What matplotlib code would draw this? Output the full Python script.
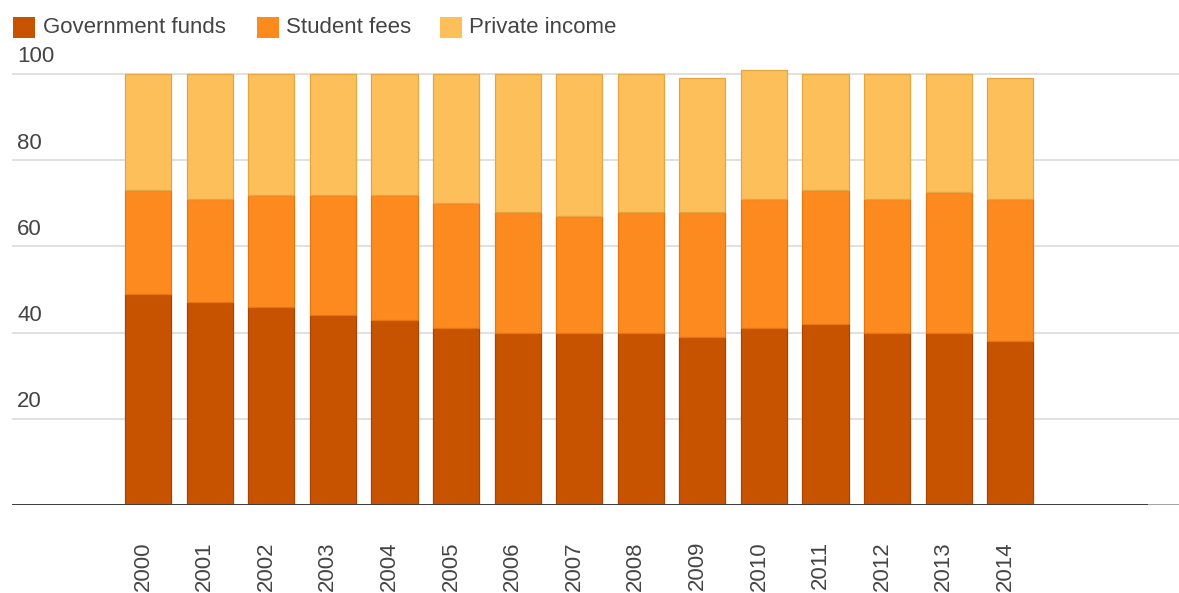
import matplotlib.pyplot as plt
from matplotlib.patches import Rectangle
from matplotlib.transforms import blended_transform_factory, ScaledTranslation
import numpy as np

plt.rcParams['font.family'] = ['Liberation Sans', 'DejaVu Sans']

years = ['2000', '2001', '2002', '2003', '2004', '2005', '2006', '2007',
         '2008', '2009', '2010', '2011', '2012', '2013', '2014']
government = [49, 47, 46, 44, 43, 41, 40, 40, 40, 39, 41, 42, 40, 40, 38]
student_fees = [24, 24, 26, 28, 29, 29, 28, 27, 28, 29, 30, 31, 31, 32.5, 33]
private = [27, 29, 28, 28, 28, 30, 32, 33, 32, 31, 30, 27, 29, 27.5, 28]

series = [
    ('Government funds', government, '#c75300', '#a84400'),
    ('Student fees', student_fees, '#fd8a1e', '#e57610'),
    ('Private income', private, '#fdbf5a', '#e3a643'),
]
yticks = [20, 40, 60, 80, 100]
text_color = '#444444'

W, H = 1179, 593
fig = plt.figure(figsize=(W / 100, H / 100), dpi=100)
ax = fig.add_axes([12 / W, 88 / H, 1167 / W, 452.6 / H])

x = np.arange(len(years))
bottom = np.zeros(len(years))
for name, vals, color, edge in series:
    ax.bar(x, vals, width=0.75, bottom=bottom, color=color,
           edgecolor=edge, linewidth=0.9, zorder=3)
    bottom += np.array(vals)

ax.set_xlim(-2.21, 16.74)
ax.set_ylim(0, 105)

# horizontal gridlines and the baseline
for v in yticks:
    ax.axhline(v, color='#e0e0e0', lw=1.4, zorder=1)
ax.axhline(0, color='#9a9a9a', lw=2, zorder=4)
ax.axhline(0, xmin=0, xmax=(1146 - 12) / 1167, color='#333333', lw=2, zorder=5)

# y labels sit above their gridlines, flush left
trans = blended_transform_factory(ax.transAxes, ax.transData)
for v in yticks:
    ax.text(5 / 1167, v + 2.7, str(v), transform=trans, ha='left',
            va='baseline', fontsize=16, color=text_color)

ax.set_yticks([])
ax.set_xticks(x)
ax.set_xticklabels(years, rotation=90, fontsize=16, color=text_color)
ax.tick_params(axis='x', length=0, pad=26)
shift = ScaledTranslation(-5 / 100, 0, fig.dpi_scale_trans)
for lab in ax.get_xticklabels():
    lab.set_transform(lab.get_transform() + shift)
for s in ax.spines.values():
    s.set_visible(False)

# legend across the top
legend_pos = [(13, 43), (257, 286), (440, 469)]
for (name, vals, color, edge), (sx, tx) in zip(series, legend_pos):
    fig.add_artist(Rectangle((sx / W, 1 - 38 / H), 22 / W, 21 / H,
                             transform=fig.transFigure, facecolor=color,
                             edgecolor='none'))
    fig.text(tx / W, 1 - 27.5 / H, name, ha='left', va='center',
             fontsize=16, color=text_color)

fig.savefig('out.png', dpi=100)
